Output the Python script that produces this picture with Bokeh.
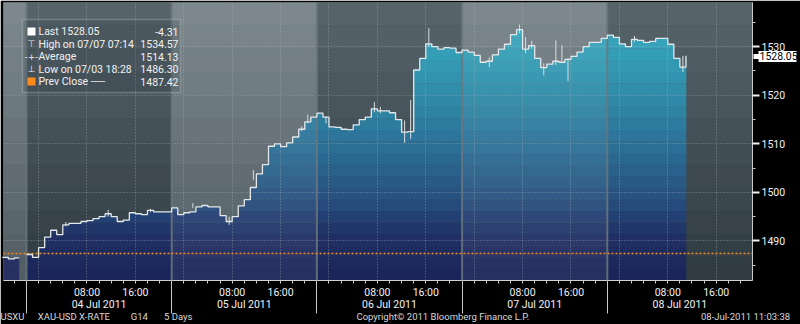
import numpy as np
from bokeh.plotting import figure
from bokeh.models import LinearAxis, FixedTicker, Span, Label, BoxAnnotation
from bokeh.embed import file_html
from bokeh.resources import INLINE

# ---------------- data (hours counted from 03 Jul 2011 00:00) ----------------
pre_hours = [18, 19, 20]
pre_close = [1486.6, 1486.3, 1486.5]
pre_end_hour = 20.8

session_starts = [22, 46, 70, 94, 118]
day_names = ["04 Jul 2011", "05 Jul 2011", "06 Jul 2011", "07 Jul 2011", "08 Jul 2011"]

close_jul04 = [1487.2, 1486.6, 1488.6, 1490.8, 1492.2, 1491.3, 1493.3, 1493.6, 1493.6, 1494.0, 1494.2, 1494.6,
               1495.0, 1495.6, 1495.0, 1494.0, 1494.3, 1495.8, 1495.6, 1495.4, 1496.3, 1496.0, 1496.0, 1496.0]
close_jul05 = [1496.8, 1495.4, 1495.8, 1496.0, 1497.0, 1497.3, 1497.0, 1497.0, 1495.2, 1494.0, 1495.0, 1497.2,
               1498.5, 1501.0, 1503.8, 1505.7, 1509.5, 1510.0, 1509.4, 1510.2, 1511.4, 1513.0, 1514.5, 1515.5]
close_jul06 = [1516.3, 1515.5, 1513.5, 1513.4, 1513.0, 1512.9, 1513.9, 1515.0, 1515.5, 1517.2, 1516.8, 1516.8,
               1516.4, 1515.0, 1512.4, 1512.5, 1525.2, 1527.6, 1530.6, 1530.0, 1529.5, 1529.8, 1529.7, 1528.8]
close_jul07 = [1529.3, 1528.9, 1528.2, 1526.8, 1527.0, 1528.3, 1529.5, 1530.5, 1532.5, 1533.5, 1529.5, 1530.2,
               1527.6, 1525.7, 1526.4, 1527.0, 1526.8, 1527.4, 1528.0, 1528.9, 1530.0, 1530.9, 1530.9, 1531.7]
close_jul08 = [1532.4, 1531.9, 1530.6, 1530.0, 1531.5, 1531.3, 1530.9, 1531.1, 1531.7, 1531.7, 1530.5, 1527.6,
               1525.8, 1528.05]
last_hour = 131.06

wick_hours = [28, 35, 42, 49, 55, 59, 67, 68, 71, 79, 80, 84, 85, 88, 98, 103, 104, 105, 107, 109, 110, 111, 122, 130]
wick_low = [1493.0, 1495.0, 1495.9, 1496.8, 1493.3, 1502.6, 1512.6, 1514.2, 1514.2, 1516.5, 1516.3, 1510.2,
            1511.0, 1530.0, 1525.8, 1532.8, 1528.7, 1529.6, 1524.1, 1526.2, 1527.0, 1522.9, 1531.0, 1524.8]
wick_high = [1493.9, 1496.4, 1496.6, 1497.8, 1495.0, 1504.6, 1513.6, 1516.0, 1515.6, 1518.6, 1517.6, 1514.8,
             1519.0, 1533.8, 1527.8, 1534.57, 1532.0, 1531.2, 1526.6, 1531.3, 1530.3, 1527.6, 1532.2, 1528.1]

last_price = 1528.05
net_change = -4.31
high_price = 1534.57
high_time = "07/07 07:14"
avg_price = 1514.13
low_price = 1486.30
low_time = "07/03 18:28"
prev_close = 1487.42

y_ticks = [1490, 1500, 1510, 1520, 1530]
y_minor = [1485, 1495, 1505, 1515, 1525, 1535]

footer_texts = ["USXU", "XAU-USD X-RATE", "G14", "5 Days",
                "Copyright\u00a9 2011 Bloomberg Finance L.P.", "08-Jul-2011 11:03:38"]
footer_hours = [19.36, 29.84, 40.65, 47.09, 90.83, 140.85]   # text centres along the time axis

# ---------------- derived series ----------------
main_close = close_jul04 + close_jul05 + close_jul06 + close_jul07 + close_jul08
main_hours = list(range(session_starts[0], session_starts[0] + len(main_close)))

X0, X1 = 18.2, 142.0
Y0, Y1 = 1481.85, 1539.1


def step_xy(hours, vals, end):
    xs, ys = [], []
    hs = list(hours) + [end]
    for i, v in enumerate(vals):
        xs += [hs[i], hs[i + 1]]
        ys += [v, v]
    return np.array(xs, float), np.array(ys, float)


pre_x, pre_y = step_xy(pre_hours, pre_close, pre_end_hour)
main_x, main_y = step_xy(main_hours, main_close, last_hour)


def ramp(stops, v):
    vs = [s[0] for s in stops]
    rgb = [np.interp(v, vs, [s[1][k] for s in stops]) for k in range(3)]
    return "#%02x%02x%02x" % tuple(int(round(c)) for c in rgb)


FONT = "Roboto"

p = figure(width=800, height=324, x_range=(X0, X1), y_range=(Y0, Y1),
           y_axis_location="right", output_backend="svg", toolbar_location=None,
           title=None, min_border_left=3, min_border_right=47, min_border_top=2, min_border_bottom=43)
p.border_fill_color = "black"
p.background_fill_color = "#3a474e"
p.outline_line_color = None

# ---------------- background (alternating days, banded gradient) ----------------
ov_alpha = 0.05
dark_stops = [(Y0, (46, 58, 64)), (Y1, (88, 101, 108))]
light_target = [(Y0, (80, 92, 98)), (Y1, (126, 138, 144))]
light_stops = [(v, tuple((c - 255 * ov_alpha) / (1 - ov_alpha) for c in col)) for v, col in light_target]

bg_edges = np.linspace(Y0, Y1, 13)
seg_bounds = [0.0] + session_starts + [session_starts[-1] + 24]
L, R, B, T, C = [], [], [], [], []
for i in range(len(seg_bounds) - 1):
    light = (i % 2 == 0)
    for j in range(len(bg_edges) - 1):
        L.append(seg_bounds[i]); R.append(seg_bounds[i + 1])
        B.append(bg_edges[j]); T.append(bg_edges[j + 1])
        C.append(ramp(light_stops if light else dark_stops, 0.5 * (bg_edges[j] + bg_edges[j + 1])))
p.quad(left=L, right=R, bottom=B, top=T, fill_color=C, line_color=C, line_width=0.5)

# ---------------- area with banded gradient ----------------
area_stops = [(1482, (27, 36, 88)), (1490, (31, 45, 98)), (1500, (40, 84, 130)), (1510, (44, 113, 151)),
              (1520, (47, 139, 168)), (1530, (53, 162, 185)), (1539, (62, 178, 196))]
a_edges = np.linspace(Y0, Y1, 25)
for j in range(len(a_edges) - 1):
    a, b = a_edges[j], a_edges[j + 1]
    col = ramp(area_stops, 0.5 * (a + b))
    for xs, ys in ((pre_x, pre_y), (main_x, main_y)):
        top = np.clip(ys, a, b + 0.02)
        p.varea(x=xs, y1=np.full(len(xs), a), y2=top, fill_color=col)

# lighter tint on alternate days
light_left = [seg_bounds[i] for i in range(0, len(seg_bounds) - 1, 2)]
light_right = [seg_bounds[i + 1] for i in range(0, len(seg_bounds) - 1, 2)]
p.quad(left=light_left, right=light_right, bottom=Y0, top=Y1, fill_color="white", fill_alpha=ov_alpha,
       line_color=None)

# ---------------- grids ----------------
p.ygrid.ticker = FixedTicker(ticks=y_ticks)
p.xgrid.ticker = FixedTicker(ticks=list(range(24, 142, 8)))
for g in (p.xgrid, p.ygrid):
    g.grid_line_color = "#b4bcc0"
    g.grid_line_alpha = 0.55
    g.grid_line_dash = "1 2"
    g.grid_line_width = 1
    g.level = "annotation"

# day separators inside the frame
for s in session_starts:
    p.add_layout(Span(location=s, dimension="height", line_color="#6b777d", line_width=2, line_alpha=0.85))

# prev close
p.add_layout(Span(location=prev_close, dimension="width", line_color="#ff8a1c", line_width=1.6,
                  line_dash="2 2"))

# ---------------- price line + wicks ----------------
wx = [h + 0.5 for h in wick_hours]
p.segment(x0=wx, y0=wick_low, x1=wx, y1=wick_high, line_color="#d8dee2", line_width=1, level="overlay")
p.line(pre_x, pre_y, line_color="#e4e8ea", line_width=1.3, level="overlay")
p.line(main_x, main_y, line_color="#e4e8ea", line_width=1.3, level="overlay")

# ---------------- right axis ----------------
ya = p.yaxis[0]
ya.ticker = FixedTicker(ticks=y_ticks, minor_ticks=y_minor)
ya.axis_line_color = "#c8ccce"
ya.major_tick_line_color = "#f0f0f0"
ya.major_tick_line_width = 2
ya.major_tick_out = 7
ya.major_tick_in = 0
ya.minor_tick_line_color = "#c8ccce"
ya.minor_tick_out = 3
ya.minor_tick_in = 0
ya.major_label_text_color = "#f2f2f2"
ya.major_label_text_font = FONT
ya.major_label_text_font_size = "10.5px"
ya.major_label_standoff = 2

# last-price tag, stacked just outside the price scale (ticks reach back towards the frame)
tag_axis = LinearAxis(ticker=FixedTicker(ticks=[last_price], minor_ticks=[last_price]),
                      major_label_overrides={last_price: f"{last_price:.2f}"}, axis_line_color=None,
                      major_tick_line_color="white", major_tick_line_width=11, major_tick_out=8,
                      major_tick_in=30, minor_tick_line_color="white", minor_tick_line_width=5,
                      minor_tick_in=35, minor_tick_out=0, major_label_standoff=-37,
                      major_label_text_color="black", major_label_text_font=FONT,
                      major_label_text_font_size="10.5px")
p.add_layout(tag_axis, "right")

# ---------------- bottom axes ----------------
xa = p.xaxis[0]
x_ticks = list(range(18, 142, 2))
overrides = {}
for h in x_ticks:
    hh = h % 24
    overrides[h] = "08:00" if hh == 8 else ("16:00" if hh == 16 else "")
xa.ticker = FixedTicker(ticks=x_ticks)
xa.major_label_overrides = overrides
xa.axis_line_color = "#d0d0d0"
xa.major_tick_line_color = "#d0d0d0"
xa.major_tick_out = 3
xa.major_tick_in = 0
xa.minor_tick_line_color = None
xa.major_label_text_color = "#f2f2f2"
xa.major_label_text_font = FONT
xa.major_label_text_font_size = "10.5px"
xa.major_label_standoff = 2

# date row, labels centred on each session
day_centres = [s + 12 for s in session_starts]
date_axis = LinearAxis(ticker=FixedTicker(ticks=day_centres, minor_ticks=[]),
                       major_label_overrides={c: n for c, n in zip(day_centres, day_names)},
                       axis_line_color=None, major_tick_line_color=None, minor_tick_line_color=None,
                       major_tick_out=0, major_tick_in=0, minor_tick_out=0, major_label_standoff=-4,
                       major_label_text_color="#f2f2f2", major_label_text_font=FONT,
                       major_label_text_font_size="10.5px")
p.add_layout(date_axis, "below")

# footer row; its minor ticks draw the long day separators up through the label rows
foot_axis = LinearAxis(ticker=FixedTicker(ticks=footer_hours, minor_ticks=session_starts),
                       major_label_overrides={h: t for h, t in zip(footer_hours, footer_texts)},
                       axis_line_color=None, major_tick_line_color=None,
                       minor_tick_line_color="#c8c8c8", minor_tick_in=32, minor_tick_out=0,
                       major_tick_out=0, major_tick_in=0, major_label_standoff=-3,
                       major_label_text_color="#d8d8d8", major_label_text_font=FONT,
                       major_label_text_font_size="9.5px")
p.add_layout(foot_axis, "below")

# ---------------- legend box (screen units, frame-relative) ----------------
def sx(cx):
    return cx - 3


def sy(cy):
    return 281 - cy


p.add_layout(BoxAnnotation(left=sx(22), right=sx(180), top=sy(20), bottom=sy(93),
                           left_units="screen", right_units="screen", top_units="screen", bottom_units="screen",
                           fill_color="#1e282e", fill_alpha=0.15, line_color="#c5ccd0", line_width=1.5,
                           level="annotation"))
rows = [f"Last {last_price:.2f}", f"High on {high_time}", "Average", f"Low on {low_time}", "Prev Close -----"]
vals = [f"{net_change:.2f}", f"{high_price:.2f}", f"{avg_price:.2f}", f"{low_price:.2f}", f"{prev_close:.2f}"]
row_y = [32, 44.5, 57, 69.5, 82]
for txt, v, cy in zip(rows, vals, row_y):
    p.add_layout(Label(x=sx(38), y=sy(cy), x_units="screen", y_units="screen", text=txt,
                       text_font=FONT, text_font_size="10.5px", text_color="#f2f2f2", text_baseline="middle"))
    p.add_layout(Label(x=sx(178), y=sy(cy), x_units="screen", y_units="screen", text=v,
                       text_font=FONT, text_font_size="10.5px", text_color="#f2f2f2", text_baseline="middle",
                       text_align="right"))
# icons
p.add_layout(BoxAnnotation(left=sx(27), right=sx(35), top=sy(28), bottom=sy(36),
                           left_units="screen", right_units="screen", top_units="screen", bottom_units="screen",
                           fill_color="white", fill_alpha=1, line_color=None))
p.add_layout(BoxAnnotation(left=sx(27), right=sx(35), top=sy(78), bottom=sy(86),
                           left_units="screen", right_units="screen", top_units="screen", bottom_units="screen",
                           fill_color="#ff8a1c", fill_alpha=1, line_color=None))
for sym, cy in (("\u22a4", row_y[1]), ("-+-", row_y[2]), ("\u22a5", row_y[3])):
    p.add_layout(Label(x=sx(31), y=sy(cy), x_units="screen", y_units="screen", text=sym,
                       text_font="DejaVu Sans", text_font_size="9px", text_color="#e8e8e8",
                       text_baseline="middle", text_align="center"))

open("out.html", "w").write(file_html(p, INLINE))
